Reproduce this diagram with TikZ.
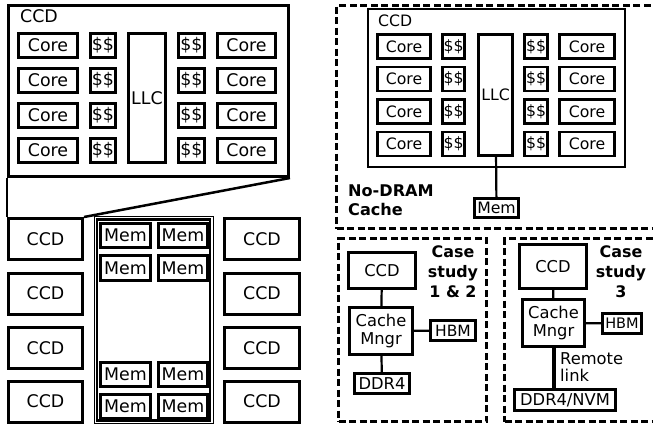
\documentclass[tikz,border=0pt]{standalone}
\usepackage{fontspec}
\setmainfont{DejaVu Sans}
\usetikzlibrary{positioning}

\begin{document}
\begin{tikzpicture}[
    x=1pt, y=-1pt,
    box/.style={draw, line width=2.8pt, inner sep=0pt},
    bigtxt/.style={font=\fontsize{17.4}{20}\selectfont},
    midtxt/.style={font=\fontsize{15.7}{18}\selectfont},
    casetxt/.style={font=\fontsize{16.3}{17.5}\selectfont},
    boldtxt/.style={font=\fontsize{15.9}{20}\selectfont\bfseries},
    dashbox/.style={draw, line width=3pt, dash pattern=on 7pt off 3.5pt, inner sep=0pt},
    wire/.style={line width=2.2pt}
  ]
  \useasboundingbox (0,0) rectangle (653,431);
  \clip (0,0) rectangle (653,431);

  % Zoomed-in CCD (left)
  \node[box, line width=3pt, minimum width=280pt, minimum height=171pt] (bigccd) at (148.5,91) {};
  \node[bigtxt, anchor=base west, inner sep=0pt] (bigccdlbl) at (20,23) {CCD};
  \foreach \r/\y in {1/45.5, 2/80.5, 3/115.5, 4/150.5} {
    \node[box, bigtxt, minimum width=59pt, minimum height=24pt] (coreL\r) at (48,\y) {Core};
    \node[box, bigtxt, minimum width=25pt, minimum height=24pt] (dolL\r) at (103,\y) {\$\$};
    \node[box, bigtxt, minimum width=26pt, minimum height=24pt] (dolR\r) at (191.5,\y) {\$\$};
    \node[box, bigtxt, minimum width=58pt, minimum height=24pt] (coreR\r) at (246.5,\y) {Core};
  }
  \node[box, bigtxt, minimum width=37pt, minimum height=129pt] (llc) at (147,98) {LLC};

  % Package: CCDs and memory
  \foreach \r/\y in {1/239, 2/293.5, 3/348, 4/401.5} {
    \node[box, bigtxt, line width=3pt, minimum width=74pt, minimum height=41pt] (ccdL\r) at (45.5,\y) {CCD};
    \node[box, bigtxt, line width=3pt, minimum width=75pt, minimum height=41pt] (ccdR\r) at (262,\y) {CCD};
  }
  \node[draw, line width=1pt, inner sep=0pt, minimum width=119pt, minimum height=207pt] (memarea) at (153.5,320) {};
  \node[draw, line width=2.2pt, inner sep=0pt, minimum width=113pt, minimum height=201pt] (meminner) at (153.5,320) {};
  \foreach \r/\y in {1/235.5, 2/268, 3/374.5, 4/406.5} {
    \node[box, bigtxt, minimum width=50.5pt, minimum height=24.5pt] (memA\r) at (125.5,\y) {Mem};
    \node[box, bigtxt, minimum width=49.5pt, minimum height=24.5pt] (memB\r) at (183,\y) {Mem};
  }
  \draw[line width=2.5pt] (bigccd.south west) -- (ccdL1.north west);
  \draw[line width=2.5pt] (bigccd.south east) -- (ccdL1.north east);

  % No-DRAM cache
  \node[dashbox, minimum width=318.5pt, minimum height=223pt] (nodram) at (495.75,117) {};
  \node[box, minimum width=257pt, minimum height=158pt] (ccdT) at (496.5,88) {};
  \node[midtxt, anchor=base west, inner sep=0pt] (ccdTlbl) at (378,27) {CCD};
  \foreach \r/\y in {1/46.5, 2/79, 3/111.5, 4/144} {
    \node[box, midtxt, minimum width=53.5pt, minimum height=24pt] (coreA\r) at (404,\y) {Core};
    \node[box, midtxt, minimum width=22.5pt, minimum height=24pt] (dolA\r) at (453.5,\y) {\$\$};
    \node[box, midtxt, minimum width=23.5pt, minimum height=24pt] (dolB\r) at (536,\y) {\$\$};
    \node[box, midtxt, minimum width=55.5pt, minimum height=24pt] (coreB\r) at (587,\y) {Core};
  }
  \node[box, midtxt, minimum width=34.5pt, minimum height=121.5pt] (llcT) at (495.5,95) {LLC};
  \node[box, midtxt, minimum width=44.5pt, minimum height=19pt] (memT) at (496.5,208) {Mem};
  \draw[wire] (llcT) -- (memT);
  \node[boldtxt, font=\fontsize{16.1}{19}\selectfont\bfseries, anchor=north west, align=left, inner sep=0pt] (nodramlbl) at (348,185) {No-DRAM\\Cache};

  % Case study 1 & 2
  \node[dashbox, minimum width=148pt, minimum height=183pt] (caseA) at (412.5,330) {};
  \node[box, casetxt, minimum width=67pt, minimum height=36pt] (ccdA) at (382,270.5) {CCD};
  \node[box, casetxt, align=center, minimum width=63.5pt, minimum height=47.5pt] (mngrA) at (381,331) {Cache\\Mngr};
  \node[box, casetxt, font=\fontsize{15.5}{18}\selectfont, minimum width=45.5pt, minimum height=20.5pt] (hbmA) at (453,330.5) {HBM};
  \node[box, casetxt, minimum width=55.5pt, minimum height=20.5pt] (ddrA) at (382,383.5) {DDR4};
  \draw[wire] (ccdA) -- (mngrA);
  \draw[wire] (mngrA) -- (hbmA);
  \draw[wire] (mngrA) -- (ddrA);
  \node[boldtxt, align=center, anchor=north, inner sep=0pt] (caseAlbl) at (453,245) {Case\\study\\1 \& 2};

  % Case study 3
  \node[dashbox, minimum width=150.5pt, minimum height=183pt] (caseB) at (579.75,330) {};
  \node[box, casetxt, minimum width=67.5pt, minimum height=44.5pt] (ccdB) at (553,266.5) {CCD};
  \node[box, casetxt, align=center, minimum width=62.5pt, minimum height=47.5pt] (mngrB) at (553.5,323) {Cache\\Mngr};
  \node[box, casetxt, font=\fontsize{14.5}{18}\selectfont, minimum width=39.5pt, minimum height=20.5pt] (hbmB) at (622,323.5) {HBM};
  \node[box, casetxt, minimum width=101.5pt, minimum height=21.5pt] (nvmB) at (565,400) {DDR4/NVM};
  \draw[wire] (ccdB) -- (mngrB);
  \draw[wire] (mngrB) -- (hbmB);
  \draw[line width=4pt] (mngrB.south) -- (mngrB.south |- nvmB.north);
  \node[casetxt, align=left, anchor=north west, inner sep=0pt] (remotelbl) at (560,352) {Remote\\link};
  \node[boldtxt, align=center, anchor=north, inner sep=0pt] (caseBlbl) at (621,245) {Case\\study\\3};
\end{tikzpicture}
\end{document}
